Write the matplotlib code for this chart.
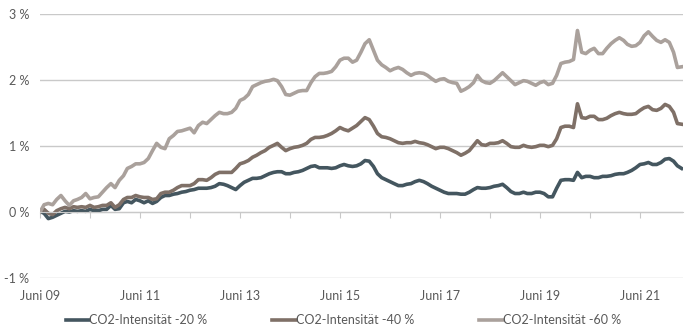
import matplotlib
matplotlib.use('Agg')

import pandas as pd
import matplotlib.pyplot as plt
import matplotlib.dates as mdates
from matplotlib.ticker import FuncFormatter

# Monatswerte ab Juni 2009 (in %)
monate = pd.date_range('2009-06-01', periods=155, freq='MS')

co2_20 = [
    0.01, -0.02, -0.10, -0.08, -0.05, -0.02, 0.01, 0.00, 0.02, 0.01,
    0.02, 0.01, 0.04, 0.02, 0.02, 0.04, 0.04, 0.10, 0.04, 0.05,
    0.14, 0.16, 0.14, 0.19, 0.17, 0.14, 0.17, 0.13, 0.16, 0.22,
    0.25, 0.25, 0.27, 0.28, 0.30, 0.31, 0.33, 0.34, 0.36, 0.36,
    0.36, 0.37, 0.39, 0.43, 0.42, 0.40, 0.37, 0.34, 0.40, 0.45,
    0.48, 0.51, 0.51, 0.52, 0.55, 0.58, 0.60, 0.61, 0.61, 0.58,
    0.58, 0.60, 0.61, 0.63, 0.66, 0.69, 0.70, 0.67, 0.67, 0.67,
    0.66, 0.67, 0.70, 0.72, 0.70, 0.69, 0.70, 0.73, 0.78, 0.77,
    0.69, 0.58, 0.52, 0.49, 0.46, 0.43, 0.40, 0.40, 0.42, 0.43,
    0.46, 0.48, 0.46, 0.43, 0.39, 0.36, 0.33, 0.30, 0.28, 0.28,
    0.28, 0.27, 0.27, 0.30, 0.34, 0.37, 0.36, 0.36, 0.37, 0.39,
    0.40, 0.42, 0.37, 0.31, 0.28, 0.28, 0.30, 0.28, 0.28, 0.30,
    0.30, 0.28, 0.23, 0.23, 0.36, 0.48, 0.49, 0.49, 0.48, 0.60,
    0.52, 0.54, 0.54, 0.52, 0.52, 0.54, 0.54, 0.55, 0.57, 0.58,
    0.58, 0.60, 0.63, 0.67, 0.72, 0.73, 0.75, 0.72, 0.72, 0.75,
    0.80, 0.81, 0.77, 0.70, 0.66,
]

co2_40 = [
    0.01, 0.04, -0.02, -0.04, 0.02, 0.05, 0.07, 0.05, 0.08, 0.07,
    0.08, 0.07, 0.10, 0.07, 0.08, 0.10, 0.10, 0.14, 0.07, 0.11,
    0.19, 0.22, 0.22, 0.25, 0.23, 0.22, 0.22, 0.19, 0.20, 0.28,
    0.30, 0.30, 0.33, 0.37, 0.40, 0.40, 0.40, 0.43, 0.49, 0.49,
    0.48, 0.52, 0.57, 0.60, 0.60, 0.60, 0.60, 0.66, 0.73, 0.75,
    0.78, 0.83, 0.86, 0.90, 0.93, 0.98, 1.01, 1.04, 0.98, 0.93,
    0.96, 0.98, 0.99, 1.01, 1.04, 1.10, 1.13, 1.13, 1.14, 1.16,
    1.19, 1.23, 1.28, 1.25, 1.23, 1.27, 1.31, 1.37, 1.43, 1.40,
    1.30, 1.19, 1.14, 1.13, 1.11, 1.08, 1.05, 1.04, 1.05, 1.05,
    1.07, 1.05, 1.04, 1.02, 0.99, 0.96, 0.98, 0.98, 0.96, 0.93,
    0.90, 0.86, 0.89, 0.93, 1.01, 1.08, 1.02, 1.01, 1.04, 1.04,
    1.05, 1.08, 1.04, 0.99, 0.98, 0.98, 1.01, 0.99, 0.98, 0.99,
    1.01, 1.01, 0.99, 1.01, 1.11, 1.28, 1.30, 1.30, 1.28, 1.64,
    1.43, 1.42, 1.45, 1.45, 1.40, 1.40, 1.42, 1.46, 1.49, 1.51,
    1.49, 1.48, 1.48, 1.49, 1.54, 1.58, 1.60, 1.55, 1.54, 1.57,
    1.63, 1.60, 1.51, 1.34, 1.33,
]

co2_60 = [
    0.00, 0.11, 0.13, 0.11, 0.19, 0.25, 0.17, 0.10, 0.17, 0.19,
    0.22, 0.28, 0.20, 0.22, 0.23, 0.30, 0.37, 0.43, 0.37, 0.48,
    0.55, 0.66, 0.69, 0.73, 0.73, 0.75, 0.81, 0.93, 1.04, 0.98,
    0.96, 1.11, 1.16, 1.22, 1.23, 1.25, 1.27, 1.20, 1.31, 1.36,
    1.34, 1.40, 1.46, 1.51, 1.49, 1.49, 1.51, 1.57, 1.69, 1.72,
    1.78, 1.90, 1.93, 1.96, 1.98, 1.99, 2.01, 1.99, 1.90, 1.78,
    1.77, 1.80, 1.83, 1.84, 1.84, 1.96, 2.05, 2.10, 2.10, 2.11,
    2.13, 2.20, 2.30, 2.33, 2.33, 2.27, 2.30, 2.42, 2.55, 2.61,
    2.45, 2.30, 2.23, 2.19, 2.14, 2.17, 2.19, 2.16, 2.11, 2.07,
    2.10, 2.11, 2.10, 2.07, 2.02, 1.98, 2.01, 2.02, 1.98, 1.96,
    1.95, 1.83, 1.86, 1.90, 1.96, 2.07, 1.99, 1.96, 1.95, 1.99,
    2.05, 2.11, 2.05, 1.99, 1.93, 1.96, 1.99, 1.98, 1.95, 1.92,
    1.96, 1.98, 1.93, 1.95, 2.07, 2.25, 2.27, 2.28, 2.31, 2.75,
    2.42, 2.40, 2.45, 2.48, 2.40, 2.40, 2.48, 2.55, 2.60, 2.64,
    2.60, 2.54, 2.51, 2.52, 2.57, 2.67, 2.73, 2.66, 2.60, 2.57,
    2.61, 2.57, 2.42, 2.19, 2.20,
]

serien = ['CO2-Intensität -20 %', 'CO2-Intensität -40 %', 'CO2-Intensität -60 %']
farben = ['#44565f', '#7f7067', '#aaa19c']
y_ticks = [-1, 0, 1, 2, 3]
x_tick_daten = pd.to_datetime(['2009-06-01', '2011-06-01', '2013-06-01', '2015-06-01',
                               '2017-06-01', '2019-06-01', '2021-06-01'])
x_tick_labels = ['Juni 09', 'Juni 11', 'Juni 13', 'Juni 15', 'Juni 17', 'Juni 19', 'Juni 21']

plt.rcParams['font.family'] = ['Lato', 'DejaVu Sans']
text_farbe = '#595959'
grid_farbe = '#c9c9c9'

fig = plt.figure(figsize=(6.91, 3.34), dpi=100)
ax = fig.add_axes([40 / 691, 1 - 278 / 334, 643 / 691, 264 / 334])

for werte, name, farbe in zip([co2_20, co2_40, co2_60], serien, farben):
    ax.plot(monate, werte, color=farbe, linewidth=2.6, label=name, solid_joinstyle='round')

ax.set_ylim(-1, 3)
ax.set_yticks(y_ticks)
ax.yaxis.set_major_formatter(FuncFormatter(lambda v, p: f'{v:.0f} %'))
ax.set_xlim(monate[0], monate[-1] + pd.Timedelta(days=10))

ax.grid(axis='y', color=grid_farbe, linewidth=1.0)
ax.set_axisbelow(True)
for s in ['top', 'right', 'left']:
    ax.spines[s].set_visible(False)

# Achse liegt auf der 0-Linie, nur Striche
ax.spines['bottom'].set_position(('data', 0))
ax.spines['bottom'].set_color(grid_farbe)
ax.xaxis.set_major_locator(mdates.YearLocator(base=1, month=6, day=1))
ax.tick_params(axis='x', direction='out', length=4, color=grid_farbe, labelbottom=False)
ax.tick_params(axis='y', length=0, pad=8, labelsize=9, labelcolor=text_farbe)

# Beschriftung unten
sec = ax.secondary_xaxis(0)
sec.set_xticks(x_tick_daten)
sec.set_xticklabels(x_tick_labels)
sec.spines['bottom'].set_visible(False)
sec.tick_params(axis='x', length=0, pad=9, labelsize=9, labelcolor=text_farbe)

ax.legend(loc='center', bbox_to_anchor=(0.497, 0.042), bbox_transform=fig.transFigure,
          ncol=3, frameon=False, fontsize=9, handlelength=1.9, handletextpad=0.0,
          columnspacing=5.2, labelcolor=text_farbe)

fig.savefig('out.png', dpi=100)
